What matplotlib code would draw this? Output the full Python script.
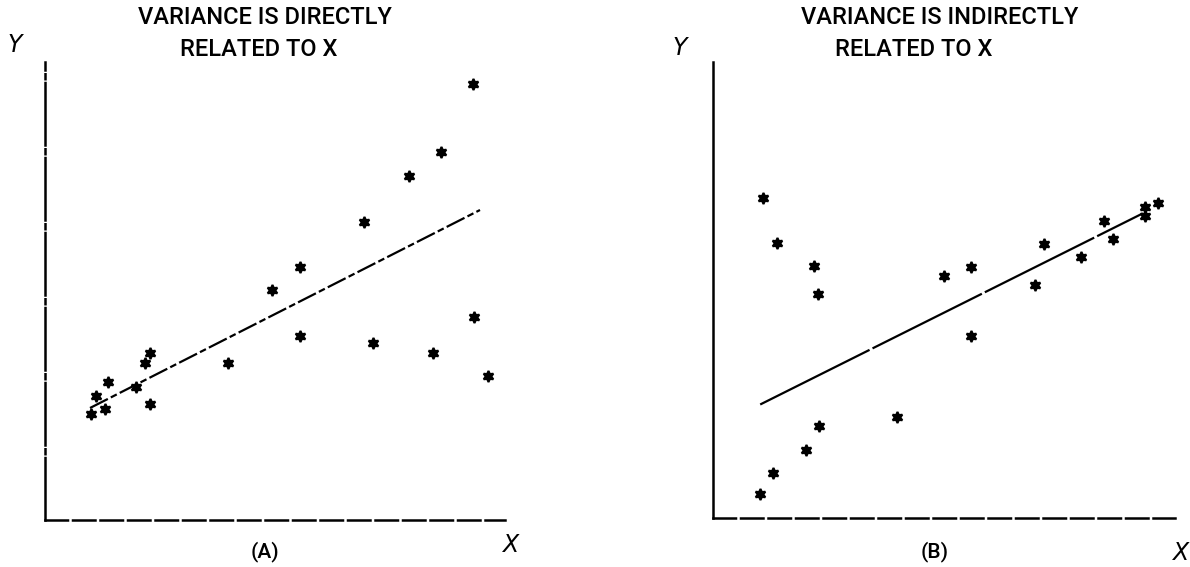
import matplotlib
matplotlib.use("Agg")
import matplotlib.pyplot as plt

# Panel A: variance directly related to X (units)
a_x = [428, 396, 364, 319, 255, 227, 255, 328, 388, 429, 443, 183, 105, 100, 91, 63, 51, 60, 46, 105]
a_y = [436, 368, 344, 298, 253, 230, 184, 177, 167, 203, 144, 157, 167, 157, 133, 138, 124, 111, 106, 116]
a_line_x = [45, 435]
a_line_y = [112, 310]

# Panel B: variance indirectly related to X
b_x = [50, 64, 101, 105, 106, 93, 60, 47, 183, 230, 257, 257, 321, 330, 366, 389, 398, 430, 430, 443]
b_y = [321, 276, 253, 225, 92, 68, 45, 24, 101, 243, 252, 183, 234, 275, 262, 298, 280, 312, 303, 316]
b_line_x = [47, 428]
b_line_y = [114, 306]

titles = [["VARIANCE IS DIRECTLY", "RELATED TO X"],
          ["VARIANCE IS INDIRECTLY", "RELATED TO X"]]
panel_labels = ["(A)", "(B)"]

W, H = 1190, 567
fig = plt.figure(figsize=(W / 100, H / 100), dpi=100)
fig.patch.set_facecolor("white")

def px_axes(x0, y0, x1, y1):
    return fig.add_axes([x0 / W, 1 - y0 / H, (x1 - x0) / W, (y0 - y1) / H])

FONT = "Roboto"
marker = (6, 1, 0)

panels = [
    dict(ax=px_axes(45, 520, 505, 62), x=a_x, y=a_y, lx=a_line_x, ly=a_line_y,
         lstyle=(0, (9, 1.5, 3, 1.5)), ylstyle=(0, (25, 1.5, 2, 1.5)), xlstyle=(0, (9, 2))),
    dict(ax=px_axes(713, 518, 1175, 62), x=b_x, y=b_y, lx=b_line_x, ly=b_line_y,
         lstyle=(0, (55, 1.5)), ylstyle="-", xlstyle=(0, (9, 2))),
]

for p in panels:
    ax = p["ax"]
    ax.set_xlim(0, 460)
    ax.set_ylim(0, 458)
    ax.set_xticks([])
    ax.set_yticks([])
    for s in ["top", "right"]:
        ax.spines[s].set_visible(False)
    ax.spines["left"].set_linestyle(p["ylstyle"])
    ax.spines["bottom"].set_linestyle(p["xlstyle"])
    ax.spines["left"].set_linewidth(1.8)
    ax.spines["bottom"].set_linewidth(1.8)
    ax.set_facecolor("none")
    ax.plot(p["lx"], p["ly"], color="black", lw=1.6, linestyle=p["lstyle"])
    ax.plot(p["x"], p["y"], linestyle="none", marker=marker, markersize=8,
            color="black", markeredgewidth=1.5)

# Titles
tkw = dict(ha="center", va="center", fontsize=17, family=FONT, fontweight="medium")
fig.text(265 / W, 1 - 18 / H, titles[0][0], **tkw)
fig.text(259 / W, 1 - 50 / H, titles[0][1], **tkw)
fig.text(940 / W, 1 - 18 / H, titles[1][0], **tkw)
fig.text(914 / W, 1 - 50 / H, titles[1][1], **tkw)

# Axis letters
for (xp, yp, t) in [(15, 45, "Y"), (510, 545, "X"), (680, 48, "Y"), (1180, 553, "X")]:
    fig.text(xp / W, 1 - yp / H, t, ha="center", va="center", fontsize=17,
             style="italic", family="DejaVu Sans")

# Panel labels
lkw = dict(ha="center", va="center", fontsize=15, family=FONT, fontweight="medium")
fig.text(265 / W, 1 - 552 / H, panel_labels[0], **lkw)
fig.text(935 / W, 1 - 552 / H, panel_labels[1], **lkw)

fig.savefig("out.png", dpi=100, facecolor="white")
